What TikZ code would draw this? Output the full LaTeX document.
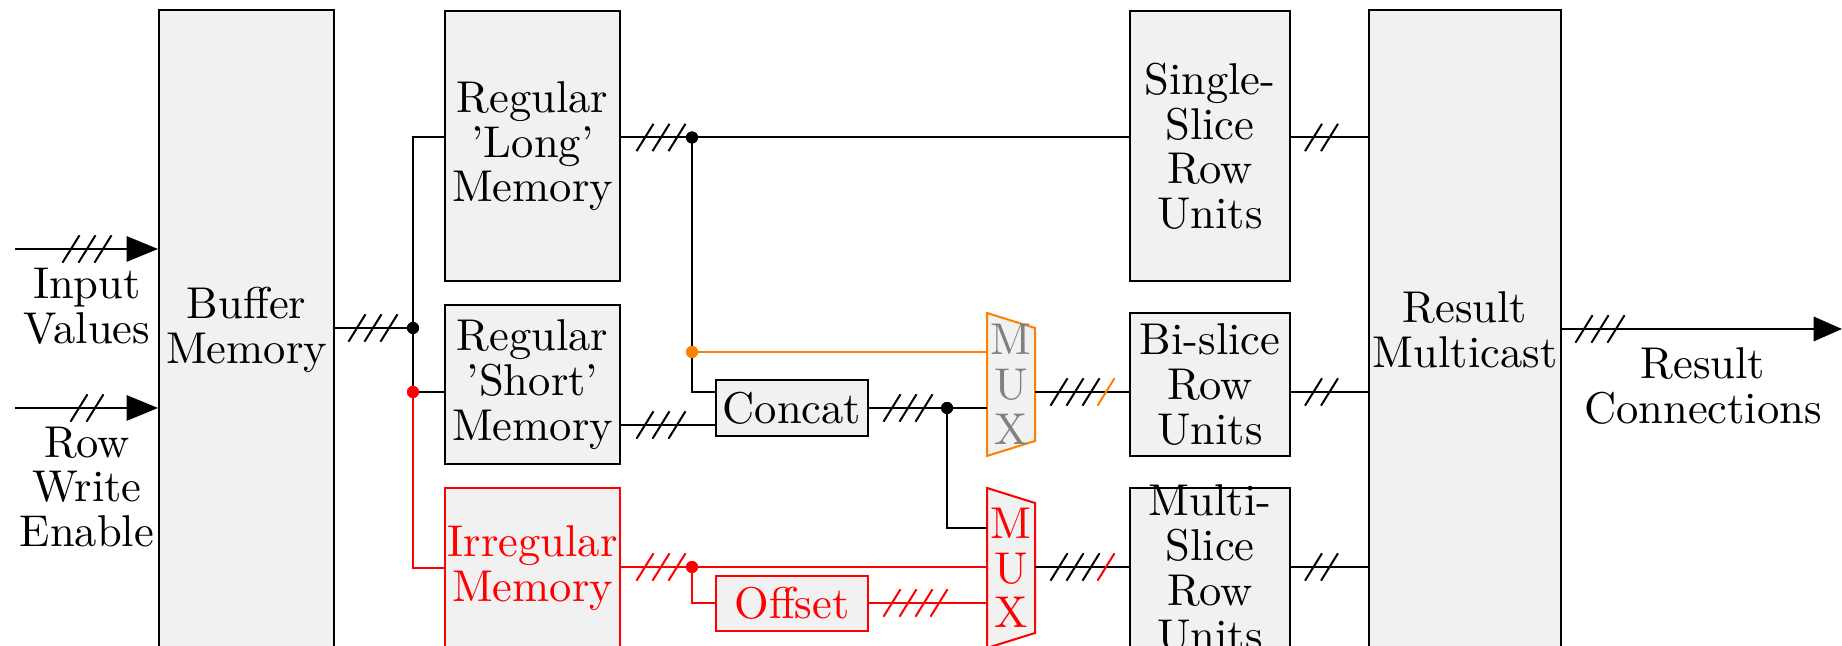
\documentclass[tikz,border=0pt]{standalone}
\usetikzlibrary{arrows.meta}
\def\pxu{0.229pt}
\definecolor{boxfill}{gray}{0.945}
\definecolor{muxorange}{rgb}{1,0.5,0}
\newcommand{\tickat}[3][black]{\draw[wire,#1] ({#2-8.5},{#3+13.7}) -- ({#2+8.5},{#3-13.7});}
\tikzset{
  wire/.style={line width=2*\pxu},
  bx/.style={draw=#1,line width=2*\pxu,fill=boxfill,inner sep=0pt,align=center,font=\fontsize{10.2}{10.25}\selectfont},
  bx/.default=black,
  lbl/.style={inner sep=0pt,align=center,font=\fontsize{10.2}{10.25}\selectfont},
  dot/.style={circle,fill=#1,inner sep=0pt,minimum size=12*\pxu},
  dot/.default=black,
  head/.style={-{Triangle[length=7.2pt,width=5.8pt]}},
  headout/.style={-{Triangle[length=6.5pt,width=5.6pt]}}
}
\begin{document}
\begin{tikzpicture}[x=0.229pt,y=-0.229pt]
\useasboundingbox (0,0) rectangle (1842,646);
\clip (0,0) rectangle (1842,646);
% boxes
\node[bx,minimum width=175*\pxu,minimum height=639*\pxu] (buf) at (246.5,330) {Buffer\\Memory};
\node[bx,minimum width=175*\pxu,minimum height=270.5*\pxu] (long) at (532.5,146.2) {Regular\\'Long'\\Memory};
\node[bx,minimum width=175*\pxu,minimum height=159*\pxu] (short) at (532.5,384.5) {Regular\\'Short'\\Memory};
\node[bx=red,minimum width=175*\pxu,minimum height=160*\pxu,text=red] (irr) at (532.5,568) {Irregular\\Memory};
\node[bx,minimum width=152*\pxu,minimum height=56*\pxu] (concat) at (792,408) {Concat};
\node[bx=red,minimum width=152*\pxu,minimum height=55*\pxu,text=red] (offset) at (792,603.5) {Offset};
\node[bx,minimum width=160*\pxu,minimum height=270.5*\pxu] (single) at (1210,146.2) {Single-\\Slice\\Row\\Units};
\node[bx,inner ysep=-2pt,minimum width=160*\pxu,minimum height=143.5*\pxu] (bi) at (1210,384.5) {Bi-slice\\Row\\Units};
\node[bx,inner ysep=-2pt,minimum width=160*\pxu,minimum height=160*\pxu] (multi) at (1210,568) {Multi-\\Slice\\Row\\Units};
\node[bx,minimum width=192*\pxu,minimum height=639*\pxu] (res) at (1465,330) {Result\\Multicast};
% multiplexers
\draw[wire,draw=muxorange,fill=boxfill] (987,313) -- (1035,328) -- (1035,441) -- (987,456) -- cycle;
\draw[wire,draw=red,fill=boxfill] (987,488) -- (1035,503) -- (1035,633) -- (987,648) -- cycle;
\node[lbl,text=black!50] (muxa) at (1011,384.5) {M\\U\\X};
\node[lbl,text=red] (muxb) at (1011,568) {M\\U\\X};
\coordinate (muxaw) at (987,384.5);
\coordinate (muxae) at (1035,392);
\coordinate (muxbw) at (987,568);
\coordinate (muxbe) at (1035,567);
% junctions
\node[dot] (jb) at (413,328) {};
\node[dot=red] (jr) at (413,392) {};
\node[dot] (jl) at (692,137.5) {};
\node[dot=muxorange] (jo) at (692,352) {};
\node[dot] (jc) at (947,408) {};
\node[dot=red] (ji) at (692,567) {};
% free ends
\coordinate (inA) at (15,249);
\coordinate (inB) at (15,408);
\coordinate (outA) at (1842,329);
% labels
\node[lbl] (linA) at (87,306) {Input\\Values};
\node[lbl] (linB) at (87,487) {Row\\Write\\Enable};
\node[lbl] (lout) at (1703,386) {Result\\Connections};
% black wires
\begin{scope}[wire]
\draw[head] (inA) -- (buf.west |- inA);
\draw[head] (inB) -- (buf.west |- inB);
\draw (buf.east |- jb) -- (jb.center);
\draw (long.west |- jl) -- (jb.center |- jl) -- (jr.center);
\draw (jr.center) -- (short.west |- jr);
\draw (long.east |- jl) -- (single.west |- jl);
\draw (jl.center) -- (jo.center);
\draw (jo.center) -- (jo.center |- jr) -- (concat.west |- jr);
\draw (short.east |- 0,425) -- (concat.west |- 0,425);
\draw (concat.east) -- (jc.center) -- (jc.center -| muxaw);
\draw (jc.center) -- (jc.center |- 0,528) -- (muxbw |- 0,528);
\draw (muxae) -- (bi.west |- muxae);
\draw (muxbe) -- (multi.west |- muxbe);
\draw (single.east |- jl) -- (res.west |- jl);
\draw (bi.east |- muxae) -- (res.west |- muxae);
\draw (multi.east |- muxbe) -- (res.west |- muxbe);
\draw[headout] (res.east |- outA) -- (outA);
\end{scope}
% coloured wires
\draw[wire,muxorange] (jo.center) -- (muxaw |- jo);
\draw[wire,red] (jr.center) -- (jr.center |- irr.west) -- (irr.west);
\draw[wire,red] (irr.east |- ji) -- (concat.west |- ji);
\draw[wire,red] (irr.east |- ji) -- (muxbw |- ji);
\draw[wire,red] (ji.center) -- (ji.center |- offset.west) -- (offset.west);
\draw[wire,red] (offset.east) -- (muxbw |- offset.east);
% redraw dots over wires
\node[dot] at (jb) {};
\node[dot=red] at (jr) {};
\node[dot] at (jl) {};
\node[dot=muxorange] at (jo) {};
\node[dot] at (jc) {};
\node[dot=red] at (ji) {};
% bus ticks
\tickat{71}{249}\tickat{87}{249}\tickat{103}{249}
\tickat{79}{408}\tickat{95}{408}
\tickat{357}{328}\tickat{373}{328}\tickat{389}{328}
\tickat{645}{137.5}\tickat{661}{137.5}\tickat{677}{137.5}
\tickat{645}{425}\tickat{661}{425}\tickat{677}{425}
\tickat[red]{645}{567}\tickat[red]{661}{567}\tickat[red]{677}{567}
\tickat{892}{408}\tickat{908}{408}\tickat{924}{408}
\tickat[red]{892}{603}\tickat[red]{908}{603}\tickat[red]{924}{603}\tickat[red]{939}{603}
\tickat{1059}{392}\tickat{1075}{392}\tickat{1091}{392}\tickat[muxorange]{1106}{392}
\tickat{1059}{567}\tickat{1075}{567}\tickat{1091}{567}\tickat[red]{1106}{567}
\tickat{1313.5}{137.5}\tickat{1329.5}{137.5}
\tickat{1313.5}{392}\tickat{1329.5}{392}
\tickat{1313.5}{567}\tickat{1329.5}{567}
\tickat{1584}{329}\tickat{1600}{329}\tickat{1616}{329}
\end{tikzpicture}
\end{document}
